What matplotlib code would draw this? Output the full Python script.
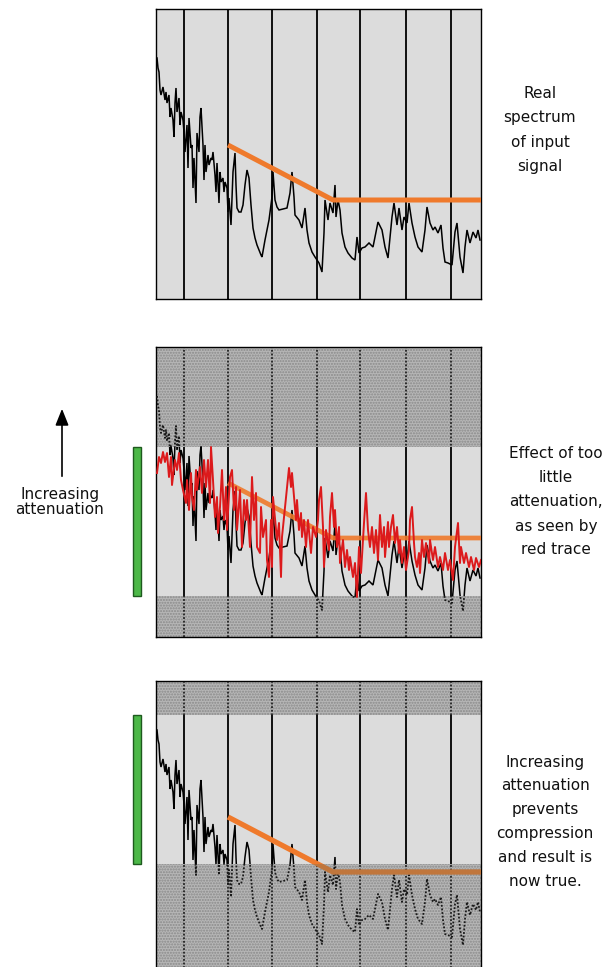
import matplotlib
matplotlib.use('Agg')
import matplotlib.pyplot as plt
from matplotlib.patches import Rectangle

plt.rcParams['font.family'] = ['DejaVu Sans']
plt.rcParams['hatch.linewidth'] = 1.0

# ---------------- data ----------------
# frequency position (panel units, 0..325) and level (panel units, 0..290)
black_x = [1, 2, 3, 4, 5, 7, 9, 10, 11, 13, 14, 15, 17, 18, 19, 20, 21, 23, 24, 25,
           27, 28, 29, 31, 32, 33, 35, 36, 37, 38, 40, 41, 43, 44, 45, 47, 48, 49, 50, 52,
           53, 55, 56, 57, 59, 60, 61, 63, 64, 65, 67, 68, 69, 71, 72, 73, 75, 76, 77, 79,
           80, 81, 83, 85, 87, 89, 91, 93, 95, 97, 99, 101, 103, 105, 106, 109, 113, 116, 117, 119,
           121, 123, 131, 134, 136, 138, 139, 143, 146, 149, 151, 153, 156, 159, 163, 166, 168, 169, 172, 174,
           177, 179, 180, 182, 184, 186, 189, 192, 196, 199, 201, 203, 206, 209, 213, 217, 222, 226, 229, 232,
           236, 238, 241, 243, 246, 248, 251, 253, 256, 259, 262, 266, 269, 271, 274, 277, 279, 282, 285, 287,
           289, 292, 296, 299, 301, 304, 307, 309, 311, 314, 317, 320, 322, 324]
black_level = [241, 231, 227, 209, 204, 212, 199, 207, 196, 204, 182, 191, 179, 162, 196, 211, 187, 201, 174, 187,
               179, 167, 147, 174, 131, 181, 151, 154, 111, 141, 96, 166, 147, 182, 191, 154, 119, 154, 127, 144,
               134, 141, 139, 147, 124, 107, 136, 96, 127, 117, 121, 107, 117, 111, 87, 101, 74, 101, 127, 146,
               114, 91, 87, 87, 94, 114, 129, 121, 94, 71, 61, 54, 49, 44, 42, 59, 79, 102, 127, 99,
               92, 89, 91, 106, 127, 102, 84, 79, 71, 91, 69, 56, 47, 42, 36, 27, 66, 99, 79, 96,
               86, 114, 82, 99, 89, 66, 52, 46, 41, 39, 62, 46, 51, 52, 56, 52, 77, 69, 52, 41,
               82, 96, 74, 91, 69, 82, 76, 96, 76, 62, 52, 47, 69, 92, 76, 69, 72, 66, 74, 51,
               37, 36, 34, 67, 76, 42, 26, 52, 69, 56, 67, 61, 69, 59]

red_x = [1, 3, 5, 7, 9, 11, 13, 15, 16, 19, 21, 23, 25, 27, 30, 31, 33, 35, 36, 38,
         40, 41, 44, 46, 48, 50, 52, 54, 55, 57, 59, 61, 62, 64, 66, 68, 70, 71, 74, 76,
         78, 80, 81, 84, 86, 88, 90, 91, 94, 96, 98, 100, 101, 104, 105, 107, 110, 111, 113, 115,
         116, 117, 120, 121, 123, 125, 126, 129, 131, 133, 135, 136, 138, 140, 141, 143, 145, 146, 148, 150,
         152, 155, 157, 160, 162, 163, 165, 167, 168, 170, 173, 174, 176, 178, 179, 181, 183, 184, 187, 189,
         191, 193, 194, 197, 199, 201, 203, 205, 208, 210, 212, 214, 216, 218, 220, 222, 224, 226, 228, 229,
         232, 233, 235, 237, 239, 241, 243, 244, 246, 248, 250, 253, 254, 256, 258, 259, 261, 263, 264, 266,
         268, 270, 273, 274, 277, 279, 282, 284, 287, 289, 292, 294, 297, 299, 302, 304, 305, 308, 310, 313,
         315, 318, 320, 323, 325]
red_level = [164, 180, 174, 185, 175, 184, 160, 180, 152, 177, 167, 184, 157, 147, 134, 157, 127, 164, 140, 127,
             167, 147, 170, 144, 177, 150, 177, 134, 190, 157, 120, 140, 104, 130, 167, 117, 150, 107, 160, 167,
             127, 150, 107, 147, 90, 137, 117, 137, 90, 160, 117, 144, 90, 84, 130, 100, 117, 77, 60, 117,
             70, 140, 107, 97, 114, 60, 100, 130, 150, 169, 150, 164, 140, 117, 137, 107, 124, 100, 117, 90,
             117, 84, 110, 100, 117, 137, 150, 110, 70, 107, 87, 120, 144, 110, 127, 90, 110, 74, 97, 70,
             87, 67, 80, 60, 74, 40, 90, 64, 114, 144, 107, 90, 110, 84, 107, 77, 122, 90, 110, 80,
             115, 90, 110, 122, 94, 110, 84, 97, 74, 90, 67, 87, 117, 130, 94, 80, 70, 84, 64, 97,
             80, 94, 74, 97, 77, 90, 70, 80, 67, 84, 67, 77, 57, 90, 114, 74, 90, 74, 84, 70,
             80, 67, 79, 70, 77]

target_x = [72, 177, 325]
target_level = [154, 99, 99]

grid_x = [28, 72, 116, 161, 204, 250, 295]

window_middle = [41, 190]
window_bottom = [107, 256]

label_top = ["Real", "spectrum", "of input", "signal"]
label_middle = ["Effect of too", "little", "attenuation,", "as seen by", "red trace"]
label_bottom = ["Increasing", "attenuation", "prevents", "compression", "and result is", "now true."]
label_left = ["Increasing", "attenuation"]

# ---------------- layout ----------------
W, H = 614, 967
fig = plt.figure(figsize=(W / 100, H / 100), dpi=100)
fig.patch.set_facecolor('white')

XMAX, YMAX = 325, 290


def px_axes(left, top, width, height, **kw):
    return fig.add_axes([left / W, 1 - (top + height) / H, width / W, height / H], **kw)


# overlay for free text (pixel coordinates)
ov = px_axes(0, 0, W, H)
ov.set_xlim(0, W)
ov.set_ylim(H, 0)
ov.axis('off')


def rect(ax, y0, y1):
    return Rectangle((-20, y0), XMAX + 40, y1 - y0, transform=ax.transData)


def split_plot(ax, x, y, window, solid, dotted, z=3):
    if window is None:
        ax.plot(x, y, zorder=z, **solid)
        return
    l, = ax.plot(x, y, zorder=z, **solid)
    l.set_clip_path(rect(ax, window[0], window[1]))
    for a, b in [(-10, window[0]), (window[1], YMAX + 10)]:
        l2, = ax.plot(x, y, zorder=z, **dotted)
        l2.set_clip_path(rect(ax, a, b))


BG = '#dcdcdc'
HATCH_FACE = '#b6b6b6'
HATCH_COL = '#8a8a8a'
ORANGE = '#ef7a2c'

solid_k = dict(color='black', lw=1.1, solid_joinstyle='miter')
dotted_k = dict(color='#1a1a1a', lw=1.3, ls=(0, (1.0, 1.0)))


def base_panel(top, window):
    ax = px_axes(156, top, XMAX, YMAX)
    ax.set_xlim(0, XMAX)
    ax.set_ylim(0, YMAX)
    ax.set_xticks([])
    ax.set_yticks([])
    ax.set_facecolor(BG)
    for s in ax.spines.values():
        s.set_linewidth(1.0)
        s.set_color('black')
    if window is not None:
        for a, b in [(0, window[0]), (window[1], YMAX)]:
            ax.axhspan(a, b, facecolor=HATCH_FACE, edgecolor=HATCH_COL, hatch='......',
                       lw=0, zorder=1)
    for gx in grid_x:
        split_plot(ax, [gx, gx], [0, YMAX], window,
                   dict(color='black', lw=1.3),
                   dict(color='#222222', lw=1.3, ls=(0, (1.0, 1.0))), z=2)
    return ax


# ---- top panel ----
ax1 = base_panel(9, None)
ax1.plot(black_x, black_level, zorder=3, **solid_k)
ax1.plot(target_x, target_level, color=ORANGE, lw=3.6, zorder=4, solid_capstyle='butt')

# ---- middle panel ----
ax2 = base_panel(347, window_middle)
split_plot(ax2, black_x, black_level, window_middle, solid_k, dotted_k, z=3)
ax2.plot(target_x, target_level, color=ORANGE, lw=3.4, alpha=0.9, zorder=4,
         solid_capstyle='butt')
ax2.plot(red_x, red_level, color='#dc1a1c', lw=1.4, zorder=5)
ax2.add_patch(Rectangle((-23, window_middle[0]), 8, window_middle[1] - window_middle[0],
                        facecolor='#4cb848', edgecolor='#1e5a1e', lw=1.0,
                        clip_on=False, zorder=6))

# ---- bottom panel ----
ax3 = base_panel(681, window_bottom)
split_plot(ax3, black_x, black_level, window_bottom, solid_k, dotted_k, z=3)
split_plot(ax3, target_x, target_level, window_bottom,
           dict(color=ORANGE, lw=3.8, solid_capstyle='butt'),
           dict(color='#c0763c', lw=3.8, solid_capstyle='butt'), z=4)
ax3.add_patch(Rectangle((-23, window_bottom[0]), 8, window_bottom[1] - window_bottom[0],
                        facecolor='#4cb848', edgecolor='#1e5a1e', lw=1.0,
                        clip_on=False, zorder=6))

# ---- texts ----
FS = 11.0
for i, t in enumerate(label_top):
    ov.text(540, 93 + i * 24.5, t, ha='center', va='center', fontsize=FS, color='#111111')
for i, t in enumerate(label_middle):
    ov.text(556, 454 + i * 24.0, t, ha='center', va='center', fontsize=FS, color='#111111')
for i, t in enumerate(label_bottom):
    ov.text(545, 762 + i * 23.8, t, ha='center', va='center', fontsize=FS, color='#111111')
for i, t in enumerate(label_left):
    ov.text(60, 494 + i * 15, t, ha='center', va='center', fontsize=FS, color='#111111')

ov.annotate('', xy=(62, 406), xytext=(62, 479),
            arrowprops=dict(arrowstyle='-|>,head_length=1.0,head_width=0.4',
                            color='black', lw=1.2))

fig.savefig('out.png', dpi=100, facecolor='white')
